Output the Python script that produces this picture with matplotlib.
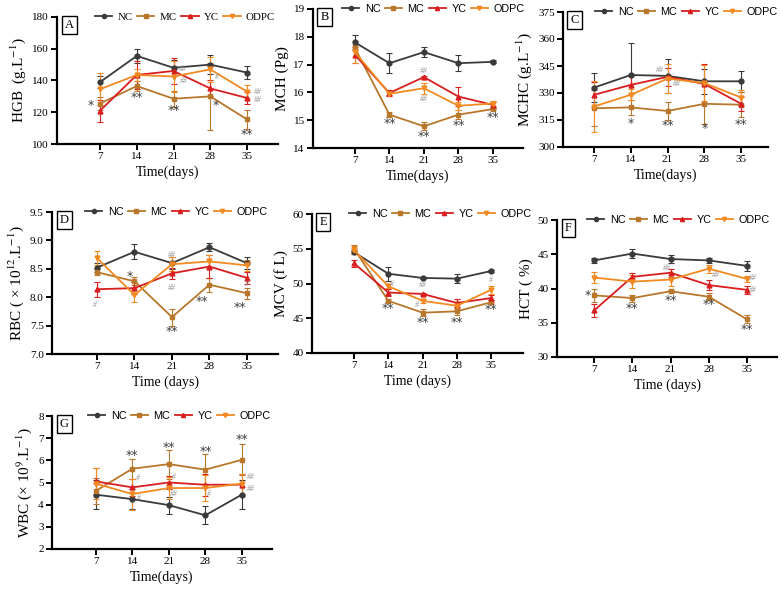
import matplotlib
matplotlib.use("Agg")
from matplotlib import pyplot as plt
from matplotlib.lines import Line2D
import numpy as np

days = [7, 14, 21, 28, 35]
groups = ['NC', 'MC', 'YC', 'ODPC']

# A - HGB
hgb_nc = [139, 155.5, 148, 150, 145]
hgb_nc_err = [4, 4.5, 5, 6, 4]
hgb_mc = [125.5, 136.5, 128.5, 130, 115.5]
hgb_mc_err = [4, 3, 5, 21, 6]
hgb_yc = [121, 143.5, 146, 135, 129]
hgb_yc_err = [7, 9, 8, 5, 4]
hgb_odpc = [134.5, 143.5, 142.5, 147, 133]
hgb_odpc_err = [10, 4, 10, 8, 4]

# B - MCH
mch_nc = [17.8, 17.05, 17.45, 17.05, 17.1]
mch_nc_err = [0.25, 0.35, 0.18, 0.28, 0.05]
mch_mc = [17.6, 15.2, 14.78, 15.2, 15.4]
mch_mc_err = [0.1, 0.1, 0.15, 0.15, 0.05]
mch_yc = [17.35, 15.98, 16.55, 15.85, 15.55]
mch_yc_err = [0.3, 0.1, 0.05, 0.35, 0.1]
mch_odpc = [17.45, 15.95, 16.15, 15.52, 15.6]
mch_odpc_err = [0.4, 0.05, 0.2, 0.15, 0.08]

# C - MCHC
mchc_nc = [333, 340, 339.5, 336.5, 336.5]
mchc_nc_err = [8, 18, 9.5, 7, 6]
mchc_mc = [321.5, 322, 320, 324, 323.5]
mchc_mc_err = [10, 4, 5, 11, 7]
mchc_yc = [329, 334.5, 339, 335, 324]
mchc_yc_err = [7, 5, 5, 11, 4]
mchc_odpc = [322.5, 329, 338, 335.5, 327.5]
mchc_odpc_err = [14, 3, 8, 10, 4]

# D - RBC
rbc_nc = [8.52, 8.8, 8.6, 8.88, 8.6]
rbc_nc_err = [0.08, 0.13, 0.1, 0.07, 0.1]
rbc_mc = [8.44, 8.28, 7.65, 8.22, 8.07]
rbc_mc_err = [0.05, 0.07, 0.15, 0.12, 0.1]
rbc_yc = [8.14, 8.16, 8.42, 8.54, 8.34]
rbc_yc_err = [0.13, 0.1, 0.1, 0.2, 0.1]
rbc_odpc = [8.69, 8.04, 8.58, 8.63, 8.56]
rbc_odpc_err = [0.12, 0.13, 0.12, 0.12, 0.1]

# E - MCV
mcv_nc = [54.5, 51.4, 50.8, 50.7, 51.8]
mcv_nc_err = [0.3, 1.0, 0.2, 0.6, 0.2]
mcv_mc = [55.0, 47.5, 45.8, 46.0, 47.3]
mcv_mc_err = [0.5, 0.2, 0.5, 0.5, 0.3]
mcv_yc = [52.9, 48.7, 48.5, 47.2, 47.9]
mcv_yc_err = [0.5, 0.5, 0.2, 0.6, 0.5]
mcv_odpc = [54.8, 49.6, 47.5, 46.8, 49.1]
mcv_odpc_err = [0.6, 0.3, 0.3, 0.4, 0.6]

# F - HCT
hct_nc = [44.1, 45.1, 44.3, 44.1, 43.3]
hct_nc_err = [0.4, 0.7, 0.6, 0.4, 0.7]
hct_mc = [39.0, 38.6, 39.6, 38.8, 35.5]
hct_mc_err = [0.9, 0.5, 0.2, 0.5, 0.6]
hct_yc = [36.8, 41.7, 42.3, 40.5, 39.8]
hct_yc_err = [0.9, 0.6, 0.6, 0.7, 0.6]
hct_odpc = [41.6, 41.0, 41.3, 42.9, 41.4]
hct_odpc_err = [0.8, 0.9, 0.9, 0.6, 0.4]

# G - WBC
wbc_nc = [4.45, 4.25, 3.98, 3.52, 4.45]
wbc_nc_err = [0.65, 0.45, 0.38, 0.4, 0.65]
wbc_mc = [4.62, 5.62, 5.83, 5.58, 6.02]
wbc_mc_err = [0.6, 0.45, 0.65, 0.7, 0.7]
wbc_yc = [5.05, 4.78, 5.0, 4.9, 4.9]
wbc_yc_err = [0.6, 0.4, 0.3, 0.5, 0.5]
wbc_odpc = [4.95, 4.48, 4.75, 4.75, 4.95]
wbc_odpc_err = [0.7, 0.7, 0.5, 0.6, 0.45]

# significance marks (text, day, value)
hgb_marks = [('*', 5.3, 124), ('**', 14, 129.5), ('**', 21, 121), ('*', 29, 124), ('**', 35, 106),
             ('##', 22.8, 147), ('##', 23, 139.5), ('#', 29.2, 142), ('##', 37, 133), ('##', 37, 128)]
mch_marks = [('**', 14, 14.88), ('**', 21, 14.42), ('**', 28, 14.8), ('**', 35, 15.11),
             ('##', 21, 16.78), ('##', 21, 15.76)]
mchc_marks = [('*', 14, 313.3), ('**', 21, 311.8), ('*', 28, 310.2), ('**', 35, 312.4),
              ('##', 19.6, 342.6), ('##', 22.7, 335)]
rbc_marks = [('#', 6.6, 7.86), ('*', 13.2, 8.37), ('##', 21, 8.74), ('##', 21, 8.16), ('**', 21, 7.4),
             ('**', 26.5, 7.93), ('#', 35, 8.23), ('**', 33.6, 7.82)]
mcv_marks = [('**', 13.9, 46.45), ('**', 21, 44.45), ('**', 28, 44.45), ('**', 35, 46.2),
             ('#', 14.7, 49.9), ('##', 21, 49.8), ('#', 19.8, 46.9), ('#', 35, 50.5)]
hct_marks = [('*', 5.9, 39.0), ('**', 14, 37.1), ('**', 21, 38.2), ('**', 28, 37.6), ('**', 35, 34.0),
             ('##', 20.3, 43.0), ('##', 29.2, 42.0), ('##', 36.1, 41.5), ('##', 36.1, 39.8)]
wbc_marks = [('**', 14, 6.23), ('**', 21, 6.56), ('**', 28.2, 6.38), ('**', 35, 6.94),
             ('#', 15.1, 5.2), ('#', 15.2, 4.28), ('#', 22, 5.23), ('##', 22, 4.48),
             ('#', 28.7, 4.48), ('##', 36.7, 5.25), ('##', 36.7, 4.7)]

plt.rcParams['font.family'] = 'Liberation Serif'
plt.rcParams['mathtext.fontset'] = 'stix'

colors = ['#3a3a3a', '#b8772a', '#d81e1e', '#f28a22']
markers = ['o', 's', '^', 'v']

W, H = 784, 592
fig = plt.figure(figsize=(7.84, 5.92), dpi=100)

panels = [
    ('A', [hgb_nc, hgb_mc, hgb_yc, hgb_odpc], [hgb_nc_err, hgb_mc_err, hgb_yc_err, hgb_odpc_err],
     'HGB  (g.L$^{-1}$)', 'Time(days)', (100, 180), np.arange(100, 181, 20), '%d', hgb_marks,
     (57, 278, 17, 144, -1.2, 40.9), 95, True),
    ('B', [mch_nc, mch_mc, mch_yc, mch_odpc], [mch_nc_err, mch_mc_err, mch_yc_err, mch_odpc_err],
     'MCH (Pg)', 'Time(days)', (14, 19), np.arange(14, 20, 1), '%d', mch_marks,
     (313, 523, 9, 148, -1.5, 41.1), 342, False),
    ('C', [mchc_nc, mchc_mc, mchc_yc, mchc_odpc], [mchc_nc_err, mchc_mc_err, mchc_yc_err, mchc_odpc_err],
     'MCHC (g.L$^{-1}$)', 'Time(days)', (300, 375), np.arange(300, 376, 15), '%d', mchc_marks,
     (563, 768, 12, 147, 1.1, 40.1), 595, False),
    ('D', [rbc_nc, rbc_mc, rbc_yc, rbc_odpc], [rbc_nc_err, rbc_mc_err, rbc_yc_err, rbc_odpc_err],
     'RBC ( × 10$^{12}$.L$^{-1}$)', 'Time (days)', (7.0, 9.5), np.arange(7.0, 9.51, 0.5), '%.1f', rbc_marks,
     (52, 278, 212, 354, -1.4, 40.8), 85, False),
    ('E', [mcv_nc, mcv_mc, mcv_yc, mcv_odpc], [mcv_nc_err, mcv_mc_err, mcv_yc_err, mcv_odpc_err],
     'MCV (f L)', 'Time (days)', (40, 60), np.arange(40, 61, 5), '%d', mcv_marks,
     (312, 523, 214, 353, -1.6, 41.5), 349, False),
    ('F', [hct_nc, hct_mc, hct_yc, hct_odpc], [hct_nc_err, hct_mc_err, hct_yc_err, hct_odpc_err],
     'HCT ( %)', 'Time (days)', (30, 50), np.arange(30, 51, 5), '%d', hct_marks,
     (557, 777, 220, 357, 0.2, 40.5), 587, False),
    ('G', [wbc_nc, wbc_mc, wbc_yc, wbc_odpc], [wbc_nc_err, wbc_mc_err, wbc_yc_err, wbc_odpc_err],
     'WBC (× 10$^{9}$.L$^{-1}$)', 'Time(days)', (2, 8), np.arange(2, 9, 1), '%d', wbc_marks,
     (52, 272, 416, 549, -1.4, 40.8), 88, False),
]

for tag, series, errs, ylab, xlab, ylim, yticks, fmt, marks, box, leg_x, serif_leg in panels:
    l, r, t, b, xlo, xhi = box
    ax = fig.add_axes([l / W, 1 - b / H, (r - l) / W, (b - t) / H])
    for i in range(4):
        ax.errorbar(days, series[i], yerr=errs[i], color=colors[i], marker=markers[i], ms=3.5,
                    lw=1.3, elinewidth=0.8, capsize=2, capthick=0.8, clip_on=False)
    ax.set_xlim(xlo, xhi)
    ax.set_ylim(*ylim)
    ax.set_xticks(days)
    ax.set_yticks(yticks)
    ax.set_yticklabels([fmt % v for v in yticks])
    ax.spines['right'].set_visible(False)
    ax.spines['top'].set_visible(False)
    ax.spines['left'].set_linewidth(1.6)
    ax.spines['bottom'].set_linewidth(1.6)
    ax.tick_params(direction='out', length=4, width=1.4, labelsize=8, pad=2)
    ax.set_ylabel(ylab, fontsize=11, labelpad=3)
    ax.set_xlabel(xlab, fontsize=10, labelpad=3)

    for txt, xv, yv in marks:
        if '*' in txt:
            ax.text(xv, yv, txt, ha='center', va='center', fontsize=9, color='#404040', family='DejaVu Sans')
        else:
            ax.text(xv, yv, txt, ha='center', va='center', fontsize=5.5, color='#909090', style='italic')

    ax.text(0.035, 0.985, tag, transform=ax.transAxes, ha='left', va='top', fontsize=9,
            bbox=dict(boxstyle='square,pad=0.25', fc='white', ec='black', lw=1))

    handles = [Line2D([], [], color=colors[i], marker=markers[i], ms=3, lw=1.3) for i in range(4)]
    fam = 'Liberation Serif' if serif_leg else 'Liberation Sans'
    ax.legend(handles, groups, loc='center left', bbox_to_anchor=((leg_x - l) / (r - l), 1.0), ncol=4,
              frameon=False, prop={'family': fam, 'size': 7.8}, handlelength=1.6, handletextpad=0.5,
              columnspacing=0.4, borderaxespad=0, borderpad=0)

fig.savefig('out.png', dpi=100)
